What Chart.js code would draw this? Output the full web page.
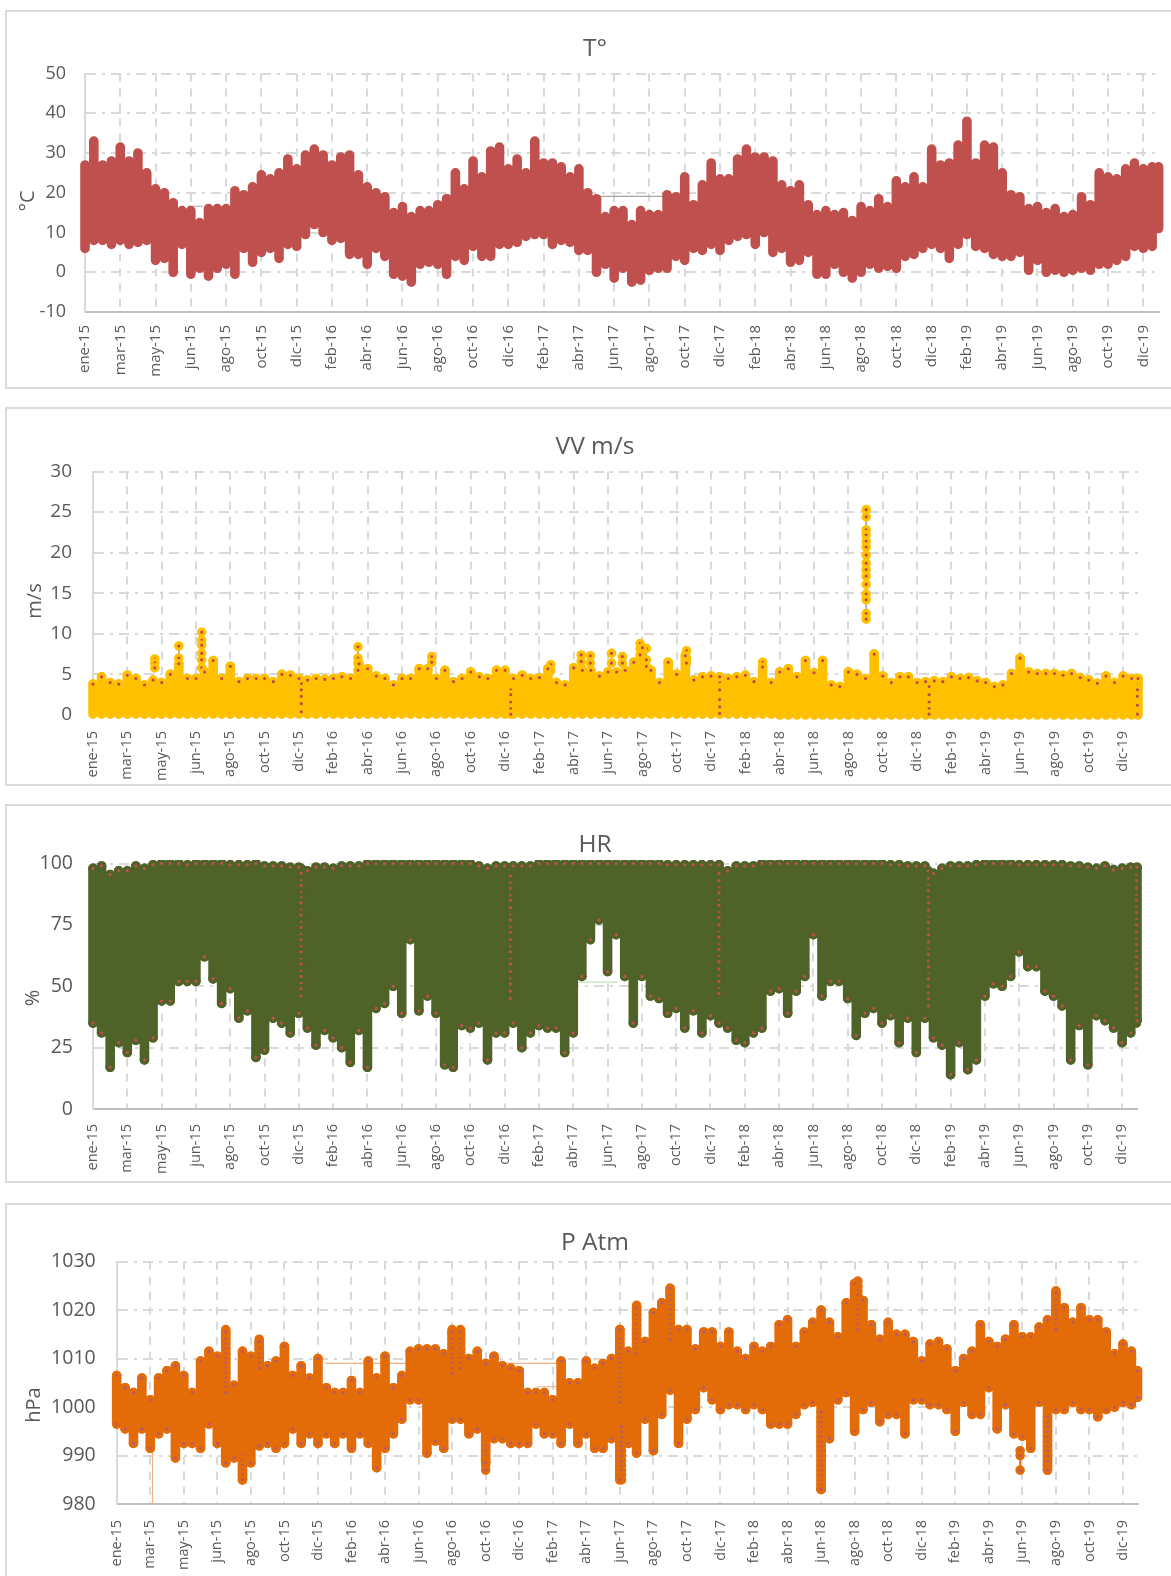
<!DOCTYPE html>
<html>
<head>
<meta charset="utf-8">
<title>T, VV, HR, P Atm</title>
<script src="https://cdn.jsdelivr.net/npm/chart.js@4/dist/chart.umd.js"></script>
<style>
  html, body { margin: 0; padding: 0; background: #fff; width: 1171px; height: 1576px; overflow: hidden; }
  .panel { position: absolute; left: 5px; width: 1180px; border: 2px solid #d9d9d9; box-sizing: border-box; background: #fff; }
  .panel canvas { position: absolute; left: 0; top: 0; }
</style>
</head>
<body>
<div class="panel" style="top:10px;height:379px"><canvas id="tempChart"></canvas></div>
<div class="panel" style="top:407px;height:379px"><canvas id="windChart"></canvas></div>
<div class="panel" style="top:804px;height:379px"><canvas id="humidChart"></canvas></div>
<div class="panel" style="top:1203px;height:390px"><canvas id="pressChart"></canvas></div>

<script>
// x axis: days since 1 Jan 2015, a tick every 60 days
const xTickLabels = [
  'ene-15','mar-15','may-15','jun-15','ago-15','oct-15','dic-15','feb-16','abr-16','jun-16','ago-16',
  'oct-16','dic-16','feb-17','abr-17','jun-17','ago-17','oct-17','dic-17','feb-18','abr-18','jun-18',
  'ago-18','oct-18','dic-18','feb-19','abr-19','jun-19','ago-19','oct-19','dic-19'
];
const lastDay = 1826;
const stepDays = 15; // the high and low arrays hold one value per 15 days, the last one is day 1826

// T (degrees C), top and bottom of the daily swing
const tempHigh = [
  27,33,27,28,31.5,28,30,25,21,20,
  17.5,15.5,15.5,12.5,16,16,16,20.5,19.5,21.5,
  24.5,23.5,25,28.5,26,29.5,31,29.5,27,29,
  29.5,24.5,21.5,20,19,15,16.5,14,15.5,15.5,
  17,18.5,25,21,28,24,30.5,31.5,26,28.5,
  25,33,27.5,27.5,26.5,24,26,20,18.5,14,
  15.5,15.5,12,15.5,14.5,14.5,19.5,19,24,17,
  22,27.5,23.5,23.5,28.5,31,29,29,28,22,
  20.5,22,17,14.5,15.5,14.5,15,13,16.5,15.5,
  18.5,16.5,23,21.5,24,21.5,31,27,27.5,32,
  38,27.5,32,31.5,25,19.5,19,16,16.5,15,
  16,14,14.5,19,17,25,24,23.5,26,27.5,
  26,26.5,26.5
];
const tempLow = [
  6,8,8,7,8,7,7.5,8,3,3.5,
  0,7,-0.5,1,-1,1,2,-0.5,6,2.5,
  5,6,3.5,7,6.5,9.5,12,10,8,8.5,
  4.5,4.5,2,6,4,-0.5,-1,-2.5,2,2.5,
  2,-0.5,4,3,6.5,4,4,7,7,7.5,
  9,9.5,9.5,7,8,7.5,5.5,5.5,0,2,
  -1.5,1,-2.5,-2,0.5,1,1,4,3,6,
  5.5,7,5.5,8,9,9.5,7,10,5,6,
  2.5,3,5,-0.5,-0.5,2,0,-1.5,0,2,
  1,1.5,1,4,4.5,6,7,6,3.5,7,
  9.5,6.5,6,4.5,4,4,5,0.5,3,0,
  0.5,0,0.5,1,0.5,2,2,3,4,6.5,
  6,6.5,11
];
const tempThinDays = [175,200,200,611,611,870,870,985];
const tempThinValues = [16.6,16.6,null,null,19.4,19.2,19.1,19.1];

// VV (m/s)
const windHigh = [
  3.8,4.7,4,3.8,4.9,4.5,3.7,4.3,4,5,
  6.3,4.5,4.5,5.3,6.7,4.5,6,4.1,4.5,4.5,
  4.5,4.1,5,4.9,4.5,4.3,4.5,4.4,4.5,4.7,
  4.5,6.3,5.7,4.8,4.5,3.7,4.5,4.5,5.7,5.7,
  4.5,5.5,4.1,4.5,5.3,4.7,4.5,5.5,5.5,4.5,
  4.9,4.5,4.6,5.7,4,3.7,5.8,5.5,5.5,4.8,
  5.3,5.3,5.5,6.5,8.3,5.5,4,6.5,5,7.3,
  4.3,4.7,4.8,4.7,4.5,4.7,4.9,4.1,5.9,4,
  5.3,5.7,4.7,6.7,5.2,6.7,3.7,3.5,5.3,5,
  4.5,7.5,4.8,4,4.7,4.7,4,4.1,4.2,4.1,
  4.7,4.5,4.6,4.2,4,3.5,3.7,5.1,7,5.3,
  5.1,5.1,5.1,4.9,5.1,4.6,4.3,3.9,4.8,4,
  4.8,4.5,4.5
];
const windLow = [
  0.1,0.1,0.1,0.1,0.1,0.1,0.1,0.1,0.1,0.1,
  0.1,0.1,0.1,0.1,0.1,0.1,0.1,0.1,0.1,0.1,
  0.1,0.1,0.1,0.1,0.1,0.1,0.1,0.1,0.1,0.1,
  0.1,0.1,0.1,0.1,0.1,0.1,0.1,0.1,0.1,0.1,
  0.1,0.1,0.1,0.1,0.1,0.1,0.1,0.1,0.1,0.1,
  0.1,0.1,0.1,0.1,0.1,0.1,0.1,0.1,0.1,0.1,
  0.1,0.1,0.1,0.1,0.1,0.1,0.1,0.1,0.1,0.1,
  0.1,0.1,0.1,0.1,0.1,0.1,0.1,0.1,0.1,0.1,
  0,0,0,0,0,0,0,0,0,0,
  0,0,0,0,0,0,0,0,0,0,
  0,0,0,0,0,0,0,0,0,0,
  0,0,0,0,0,0,0,0,0,0,
  0,0,0
];
// isolated gusts and the visible strings of hourly readings: [day, values]
const windColumns = [
  [1351,[25.3,24.4,22.8,22.2,21.4,20.7,19.7,18.7,17.9,17.1,16.1,14.9,14.2,12.5,11.8]],
  [190,[10.2,9.2,8.6,7.6,6.8,5.8]],
  [108,[6.9,6.4,5.8]],
  [150,[8.5,7]],
  [463,[8.4,7,6.4,5.5]],
  [592,[7.2,6.5]],
  [800,[6.2,5.5]],
  [853,[7.4,6.6,5.8]],
  [869,[7.3,6.4,5.5]],
  [906,[7.6,6.4]],
  [925,[7.2,6.4]],
  [956,[8.8,8.2,7.4]],
  [967,[8.2,6.8,6]],
  [1037,[7.9,7,6.4]],
  [1170,[6.5,5.5]],
  [364,[3.9,3.1,2.3,1.4,0.4]],
  [730,[3.1,2.5,1.6,0.8,0.1]],
  [1095,[4.1,3.1,1.9,1,0.2]],
  [1461,[3.5,2.5,1.6,0.8,0.1]],
  [1825,[4.5,3.1,2.3,1.2,0.1]]
];

// HR (%)
const humidHigh = [
  98,99,95.5,97,97,99,98,99.5,100,100,
  100,99.5,100,100,100,100,99.5,99.5,99.5,100,
  99,99,99,98.5,98.5,97,98.5,98.5,98,99,
  99,99,100,100,100,100,100,100,100,100,
  100,100,100,100,100,99,98,99,99,99,
  99,99,100,100,100,100,100,100,100,100,
  100,100,100,100,100,100,100,99.5,99.5,99.5,
  99.5,99.5,99.5,99.5,97,99,99,99,100,100,
  100,100,100,100,100,100,100,100,100,100,
  100,100,100,99.5,99.5,99,99,99,96,98,
  99,99,99,99.5,100,100,100,100,99.5,99.5,
  99.5,99.5,99.5,99.5,99,99,98.5,98,99,97.5,
  98,98.5,98.5
];
const humidLow = [
  35,31,17,27,23,28,20,29,44,44,
  52,52,52,62,53,43,49,37,40,21,
  24,37,35,31,39,33,26,32,29,25,
  19,32,17,41,43,50,39,69,40,46,
  39,18,17,34,33,35,20,31,31,35,
  25,31,34,33,33,23,31,54,69,77,
  56,71,54,35,54,46,45,39,41,33,
  40,31,38,35,33,28,27,31,33,48,
  49,39,48,54,71,46,52,52,45,30,
  39,41,35,38,27,37,23,37,29,26,
  14,27,16,20,46,51,50,54,64,58,
  58,48,46,42,20,34,18,38,36,33,
  27,31,36
];
const humidColumns = [
  [364,[98,96,93,91,88,86,84,81,79,76,74,71,69,66,64,61,59,56,54,51,49,46]],
  [730,[98,95,92,90,87,85,82,79,77,74,72,69,66,64,61,59,56,53,51,48,45]],
  [1095,[98,96,93,90,88,85,83,80,78,75,72,70,67,65,62,60,57,54,52,49,47]],
  [1461,[97,94,91,89,86,84,81,78,76,73,71,68,65,63,60,58,55,53,50,47,45,42]],
  [1825,[98,95,93,90,87,85,82,80,77,75,72,69,67,64,62,59,57,54,51,49,46,43,41,38,35]]
];
const humidThinDays = [845,918];
const humidThinValues = [51.7,51.7];

// P Atm (hPa)
const pressHigh = [
  1006.5,1004,1003,1006,1001.5,1006,1007.5,1008.5,1006.5,1003,
  1009.5,1011.5,1010.5,1015.5,1004.5,1011.5,1010.5,1013.5,1008.5,1009.5,
  1012.5,1006.5,1008.5,1006,1010,1004,1003,1003,1005.5,1003,
  1009.5,1006,1010.5,1004,1006.5,1011.5,1012,1012,1012,1011,
  1015.5,1015.5,1010,1011.5,1009,1010.5,1008.5,1008,1007.5,1003,
  1003,1003,1001.5,1009.5,1005,1005,1009.5,1008,1009,1010,
  1016,1011.5,1020.5,1013.5,1019.5,1021.5,1024.5,1016,1016,1012,
  1015.5,1015.5,1012.5,1015.5,1011.5,1010,1012.5,1011.5,1012.5,1017,
  1018,1012.5,1015.5,1017.5,1020,1017.5,1014.5,1021.5,1025.5,1022,
  1017,1014,1017.5,1015,1015,1013.5,1009.5,1013,1013.5,1012,
  1007.5,1010,1011.5,1017,1013.5,1012.5,1014,1017,1014.5,1014.5,
  1016.5,1018,1023.5,1020.5,1017.5,1020.5,1018,1018,1015.5,1011,
  1013,1011.5,1007.5
];
const pressLow = [
  996.5,995.5,992.5,995.5,991.5,994.5,995.5,989.5,992.5,992.5,
  991.5,996.5,992.5,988.5,989.5,985,988.5,992,992.5,991.5,
  992.5,995.5,992.5,994.5,992.5,994.5,992.5,994.5,991.5,994.5,
  992.5,987.5,991.5,994.5,997.5,1001.5,1001.5,990.5,993,991.5,
  997.5,997.5,994.5,995.5,988.5,993.5,993.5,992.5,992.5,992.5,
  996.5,994.5,994.5,992.5,996.5,992.5,994.5,991.5,991.5,993.5,
  985,992.5,990.5,997.5,991,998.5,1003.5,992.5,997.5,999.5,
  1004,1001.5,999.5,1000.5,1000.5,999.5,1000.5,999.5,996.5,996.5,
  996.5,998.5,1000.5,1001,983,993.5,1001.5,1003,995,999.5,
  1001,997,998.5,998.5,994.5,1001.5,1001.5,1000.5,1000.5,999.5,
  995,1001,998.5,998.5,1004,995.5,1000.5,994.5,994,991.5,
  1001,987,999.5,999.5,1001,999.5,999.5,998,999.5,1000,
  1001,1000.5,1002
];
// readings are whole hPa, so the tall spikes show as strings of dots
const pressColumns = [
  [1616,[991,990,987]],
  [195,[1016,1015,1014,1013,1012,1011,1010,1009,1008,1007,1006,1005,1004,1003]],
  [225,[990,989,988,987,986,985]],
  [255,[1014,1013,1012,1011,1010,1009,1008]],
  [600,[1016,1015,1014,1013,1012,1011,1010,1009,1008,1007]],
  [615,[1016,1015,1014,1013,1012,1011,1010,1009,1008]],
  [660,[992,991,990,989,988,987]],
  [900,[1016,1015,1014,1013,1012,1011,1010,1009,1008,1007,1006,1005,1004,1003,1002,1001]],
  [903,[985,986,987,988,989,990,991,992,993,994,995,996]],
  [930,[1021,1020,1019,1018,1017,1016,1015,1014,1013,1012,1011]],
  [990,[1024,1023,1022,1021,1020,1019,1018,1017,1016,1015,1014]],
  [1260,[983,984,985,986,987,988,989,990,991,992,993,994,995,996,997,998,999]],
  [1326,[1026,1025,1024,1023,1022,1021,1020,1019,1018,1017,1016]],
  [1665,[987,988,989,990,991,992,993,994,995,996,997,998]],
  [1680,[1024,1023,1022,1021,1020,1019,1018,1017,1016]]
];
const pressThinDays = [373,517,517,537,801,801,752,820,820,64,64];
const pressThinValues = [1009,1009,null,1009,1009,null,1004.2,1004.2,null,990.5,980];

function dayOf(i) {
  return Math.min(i * stepDays, lastDay);
}

// one vertical stroke per period, from low to high, with a gap between strokes
function bandPoints(high, low) {
  const pts = [];
  high.forEach((h, i) => {
    pts.push({ x: dayOf(i), y: h }, { x: dayOf(i), y: low[i] }, { x: dayOf(i), y: null });
  });
  return pts;
}

function pairPoints(days, values) {
  return days.map((d, i) => ({ x: d, y: values[i] }));
}

function columnPoints(columns) {
  const pts = [];
  columns.forEach(([day, values]) => {
    values.forEach(v => pts.push({ x: day, y: v }));
    pts.push({ x: day, y: null });
  });
  return pts;
}

function endPoints(values) {
  return values.map((v, i) => ({ x: dayOf(i), y: v }));
}

function drawPanel(c) {
  const W = 1176, H = c.boxHeight;
  const canvas = document.getElementById(c.id);
  canvas.width = W;
  canvas.height = H;
  canvas.style.width = W + 'px';
  canvas.style.height = H + 'px';

  const originY = c.top + 2;
  const datasets = [];
  const clip = { left: 10, right: 10, top: c.clipTop, bottom: 10 };
  const marker = {
    type: 'line', showLine: false, pointRadius: 3.2, pointBorderWidth: 3.2,
    pointBackgroundColor: c.dotColor, pointBorderColor: c.bandColor, clip: clip
  };
  (c.dots || []).forEach(d => datasets.push(Object.assign({ data: d }, marker)));
  if (c.columns) {
    datasets.push(Object.assign({ data: columnPoints(c.columns) }, marker, {
      showLine: true, borderColor: c.thinColumnColor, borderWidth: 1, spanGaps: false
    }));
  }
  datasets.push({
    data: bandPoints(c.high, c.low), borderColor: c.bandColor, borderWidth: 9.6,
    borderCapStyle: 'round', borderJoinStyle: 'round', pointRadius: 0, spanGaps: false, clip: clip
  });
  if (c.thinDays) {
    datasets.push({
      data: pairPoints(c.thinDays, c.thinValues), borderColor: c.thinColor, borderWidth: 1.2,
      pointRadius: 0, spanGaps: false
    });
  }

  // centred title and axis title sit at page positions, not at the plot's middle
  const panelText = {
    id: 'panelText',
    afterDraw(chart) {
      const ctx = chart.ctx;
      ctx.save();
      ctx.fillStyle = '#595959';
      ctx.textAlign = 'center';
      ctx.textBaseline = 'middle';
      ctx.font = '24.5px "Open Sans"';
      ctx.fillText(c.title, 595 - 7, c.titleY - originY);
      ctx.translate(c.yTitleX - 7, c.yTitleY - originY);
      ctx.rotate(-Math.PI / 2);
      ctx.font = '20px "Open Sans"';
      ctx.fillText(c.yTitle, 0, 0);
      ctx.restore();
    }
  };

  new Chart(canvas, {
    type: 'line',
    data: { datasets },
    plugins: [panelText],
    options: {
      responsive: false,
      animation: false,
      events: [],
      layout: { padding: { left: 0, right: W - (c.plotRight - 7), top: c.plotTop - originY, bottom: 0 } },
      plugins: {
        legend: { display: false },
        tooltip: { enabled: false },
        title: { display: false }
      },
      scales: {
        x: {
          type: 'linear', min: 0, max: lastDay,
          afterFit: s => { s.height = H - (c.plotBottom - originY); },
          grid: { color: '#d9d9d9', lineWidth: 2, drawTicks: false },
          border: { color: '#bfbfbf', width: 2, dash: [8, 7] },
          ticks: {
            stepSize: 60, autoSkip: false, includeBounds: false,
            minRotation: 90, maxRotation: 90, padding: c.xPad, color: '#595959',
            font: { family: 'Open Sans', size: c.xFont },
            callback: v => xTickLabels[v / 60]
          }
        },
        y: {
          min: c.yMin, max: c.yMax,
          afterFit: s => { s.width = c.plotLeft - 7; },
          grid: { color: '#d9d9d9', lineWidth: 2, drawTicks: false },
          border: { color: '#d9d9d9', width: 2, dash: [10, 6, 3, 6] },
          ticks: {
            stepSize: c.yStep, padding: c.yPad, color: '#595959',
            font: { family: 'Open Sans', size: c.yFont },
            callback: v => String(v)
          }
        }
      }
    }
  });
}

drawPanel({
  id: 'tempChart', title: 'T°', yTitle: '°C', top: 10, boxHeight: 375, titleY: 49,
  plotLeft: 85, plotRight: 1158.6, plotTop: 73.5, plotBottom: 312, yMin: -10, yMax: 50, yStep: 10,
  yFont: 18, xFont: 15, yPad: 19, xPad: 13, yTitleX: 28, yTitleY: 201, clipTop: 10,
  high: tempHigh, low: tempLow, bandColor: '#c0504d', dotColor: '#c0504d',
  thinDays: tempThinDays, thinValues: tempThinValues, thinColor: '#a6a6a6'
});
drawPanel({
  id: 'windChart', title: 'VV m/s', yTitle: 'm/s', top: 407, boxHeight: 375, titleY: 447,
  plotLeft: 93, plotRight: 1138, plotTop: 471.5, plotBottom: 715, yMin: 0, yMax: 30, yStep: 5,
  yFont: 19, xFont: 14.5, yPad: 21, xPad: 16, yTitleX: 35, yTitleY: 601, clipTop: 10,
  high: windHigh, low: windLow, bandColor: '#ffc000', dotColor: '#bf4b50',
  dots: [endPoints(windHigh)], columns: windColumns, thinColumnColor: '#a6a6a6'
});
drawPanel({
  id: 'humidChart', title: 'HR', yTitle: '%', top: 804, boxHeight: 375, titleY: 845,
  plotLeft: 93, plotRight: 1137, plotTop: 863.5, plotBottom: 1109, yMin: 0, yMax: 100, yStep: 25,
  yFont: 19.5, xFont: 14.5, yPad: 20, xPad: 15, yTitleX: 33, yTitleY: 998, clipTop: 3.5,
  high: humidHigh, low: humidLow, bandColor: '#4f6228', dotColor: '#c0504d',
  dots: [endPoints(humidLow), endPoints(humidHigh)], columns: humidColumns, thinColumnColor: '#c5e0b4',
  thinDays: humidThinDays, thinValues: humidThinValues, thinColor: '#c5e0b4'
});
drawPanel({
  id: 'pressChart', title: 'P Atm', yTitle: 'hPa', top: 1203, boxHeight: 372, titleY: 1243,
  plotLeft: 116.7, plotRight: 1137.5, plotTop: 1261.7, plotBottom: 1504, yMin: 980, yMax: 1030, yStep: 10,
  yFont: 19.5, xFont: 14.5, yPad: 21, xPad: 16, yTitleX: 34, yTitleY: 1405, clipTop: 10,
  high: pressHigh, low: pressLow, bandColor: '#e36c09', dotColor: '#b65a6a',
  dots: [endPoints(pressLow), endPoints(pressHigh)], columns: pressColumns, thinColumnColor: '#e36c09',
  thinDays: pressThinDays, thinValues: pressThinValues, thinColor: '#f4b183'
});
</script>
</body>
</html>
